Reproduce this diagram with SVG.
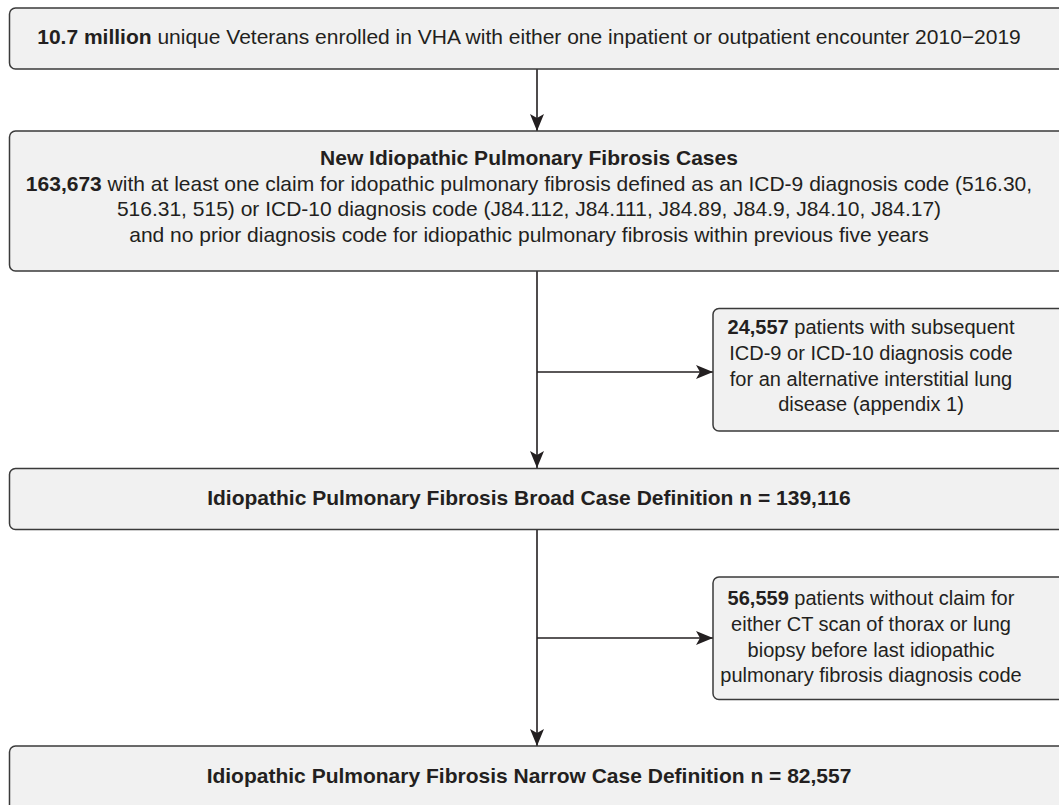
<svg xmlns="http://www.w3.org/2000/svg" width="1059" height="805" viewBox="0 0 1059 805">
<style>
.box{fill:#f1f1f1;stroke:#3a3a3a;stroke-width:1.5}
.t{font-family:"Liberation Sans",Arial,sans-serif;font-size:21px;fill:#231f20;text-anchor:middle}
.s{font-size:20px}
.b{font-weight:bold}
.ln{stroke:#231f20;stroke-width:1.6;fill:none}
</style>
<defs>
<marker id="ah" viewBox="0 0 17 14" refX="17" refY="7" markerWidth="17" markerHeight="14" markerUnits="userSpaceOnUse" orient="auto">
<path d="M0,0 L17,7 L0,14 L4,7 Z" fill="#231f20"/>
</marker>
</defs>
<rect width="1059" height="805" fill="#ffffff"/>
<g id="connectors">
<line class="ln" x1="537" y1="69" x2="537" y2="131" marker-end="url(#ah)"/>
<line class="ln" x1="537" y1="271" x2="537" y2="468" marker-end="url(#ah)"/>
<line class="ln" x1="537" y1="372" x2="713" y2="372" marker-end="url(#ah)"/>
<line class="ln" x1="537" y1="529" x2="537" y2="746" marker-end="url(#ah)"/>
<line class="ln" x1="537" y1="638" x2="713" y2="638" marker-end="url(#ah)"/>
</g>
<g id="n1">
<rect class="box" x="9.5" y="8" width="1070" height="61" rx="6"/>
<text class="t" x="529" y="44"><tspan class="b">10.7 million</tspan> unique Veterans enrolled in VHA with either one inpatient or outpatient encounter 2010−2019</text>
</g>
<g id="n2">
<rect class="box" x="9.5" y="131" width="1070" height="140" rx="6"/>
<text class="t b" x="529" y="165">New Idiopathic Pulmonary Fibrosis Cases</text>
<text class="t" x="529" y="191"><tspan class="b">163,673</tspan> with at least one claim for idopathic pulmonary fibrosis defined as an ICD-9 diagnosis code (516.30,</text>
<text class="t" x="529" y="216">516.31, 515) or ICD-10 diagnosis code (J84.112, J84.111, J84.89, J84.9, J84.10, J84.17)</text>
<text class="t" x="529" y="242">and no prior diagnosis code for idiopathic pulmonary fibrosis within previous five years</text>
</g>
<g id="n3">
<rect class="box" x="713" y="308.5" width="360" height="122.5" rx="6"/>
<text class="t s" x="871" y="334"><tspan class="b">24,557</tspan> patients with subsequent</text>
<text class="t s" x="871" y="360">ICD-9 or ICD-10 diagnosis code</text>
<text class="t s" x="871" y="386">for an alternative interstitial lung</text>
<text class="t s" x="871" y="411">disease (appendix 1)</text>
</g>
<g id="n4">
<rect class="box" x="9.5" y="468.5" width="1070" height="61" rx="6"/>
<text class="t b" x="529" y="505">Idiopathic Pulmonary Fibrosis Broad Case Definition n = 139,116</text>
</g>
<g id="n5">
<rect class="box" x="713" y="577" width="360" height="122.5" rx="6"/>
<text class="t s" x="871" y="605"><tspan class="b">56,559</tspan> patients without claim for</text>
<text class="t s" x="871" y="631">either CT scan of thorax or lung</text>
<text class="t s" x="871" y="657">biopsy before last idiopathic</text>
<text class="t s" x="871" y="682">pulmonary fibrosis diagnosis code</text>
</g>
<g id="n6">
<rect class="box" x="9.5" y="746" width="1070" height="80" rx="6"/>
<text class="t b" x="529" y="783">Idiopathic Pulmonary Fibrosis Narrow Case Definition n = 82,557</text>
</g>
</svg>
